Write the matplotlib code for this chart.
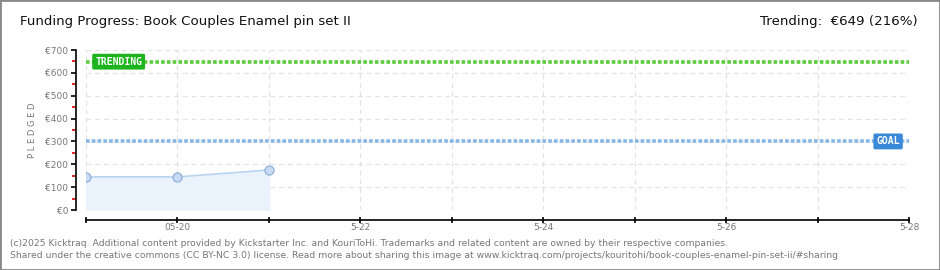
import matplotlib
matplotlib.use('Agg')
import matplotlib.pyplot as plt
from matplotlib.patches import Rectangle

# datos del grafico
dias = [0, 1, 2]            # dias desde 05-19
pledged = [145, 145, 175]
meta = 300
tendencia = 649
ticks_x = list(range(0, 10))
etiquetas_x = ['', '05-20', '', '5-22', '', '5-24', '', '5-26', '', '5-28']
ticks_y = [0, 100, 200, 300, 400, 500, 600, 700]
etiquetas_y = ['€0', '€100', '€200', '€300', '€400', '€500', '€600', '€700']

fig = plt.figure(figsize=(9.4, 2.7), dpi=100)
fig.patches.append(Rectangle((0, 0), 1, 1, transform=fig.transFigure,
                             fill=False, edgecolor='#888888', linewidth=2))

ax = fig.add_axes([86/940, 60/270, 823/940, 160/270])
ax.set_xlim(0, 9)
ax.set_ylim(0, 700)

# rejilla
ax.grid(True, color='#e3e3e3', linestyle=(0, (4, 3)), linewidth=0.9)
ax.set_axisbelow(True)

# area de fondos
ax.fill_between(dias, pledged, 0, color='#eaf2fc', zorder=1)
ax.plot(dias, pledged, color='#b9d5f2', linewidth=1.2, zorder=2)
ax.plot(dias, pledged, linestyle='none', marker='o', markersize=6.5,
        markerfacecolor='#c6dcf5', markeredgecolor='#8fb0d6', markeredgewidth=0.9, zorder=3)

# lineas de meta y tendencia
ax.axhline(tendencia, color='#5ccc3c', linewidth=2.6, linestyle=(0, (1, 0.6)), zorder=2)
ax.axhline(meta, color='#86b6e8', linewidth=2.6, linestyle=(0, (1, 0.6)), zorder=2)

ax.text(0.1, tendencia, 'TRENDING', color='white', fontsize=7, fontweight='bold',
        va='center', ha='left', family='DejaVu Sans Mono', zorder=5,
        bbox=dict(boxstyle='round,pad=0.3,rounding_size=0.15', facecolor='#1db41d', edgecolor='none'))
ax.text(8.9, meta, 'GOAL', color='white', fontsize=7, fontweight='bold',
        va='center', ha='right', family='DejaVu Sans Mono', zorder=5,
        bbox=dict(boxstyle='round,pad=0.3,rounding_size=0.15', facecolor='#3a88d8', edgecolor='none'))

# ejes
for s in ['top', 'right']:
    ax.spines[s].set_visible(False)
ax.spines['left'].set_position(('outward', 7.2))
ax.spines['bottom'].set_position(('outward', 7.2))
ax.spines['left'].set_linewidth(1.2)
ax.spines['bottom'].set_linewidth(1.2)

ax.set_xticks(ticks_x)
ax.set_xticklabels(etiquetas_x)
ax.set_yticks(ticks_y)
ax.set_yticklabels(etiquetas_y)
ax.set_yticks([50, 150, 250, 350, 450, 550, 650], minor=True)
ax.tick_params(axis='y', which='minor', length=3, color='#dd0000', width=1.2)
ax.tick_params(axis='both', which='major', length=3.5, width=1.2, colors='black',
               labelsize=6.5, labelcolor='#777777', pad=2)
ax.tick_params(axis='x', direction='inout', length=5, pad=0)

ax.set_ylabel('P L E D G E D', fontsize=6, color='#777777', labelpad=6)

fig.text(20/940, 1 - 22/270, 'Funding Progress: Book Couples Enamel pin set II',
         fontsize=9.6, color='#111111', va='center', ha='left')
fig.text(918/940, 1 - 22/270, 'Trending:  €649 (216%)',
         fontsize=9.6, color='#111111', va='center', ha='right')

fig.text(10/940, 1 - 243/270,
         '(c)2025 Kicktraq. Additional content provided by Kickstarter Inc. and KouriToHi. Trademarks and related content are owned by their respective companies.',
         fontsize=6.7, color='#777777', va='center', ha='left')
fig.text(10/940, 1 - 255/270,
         'Shared under the creative commons (CC BY-NC 3.0) license. Read more about sharing this image at www.kicktraq.com/projects/kouritohi/book-couples-enamel-pin-set-ii/#sharing',
         fontsize=6.7, color='#777777', va='center', ha='left')

fig.savefig('out.png', dpi=100)
